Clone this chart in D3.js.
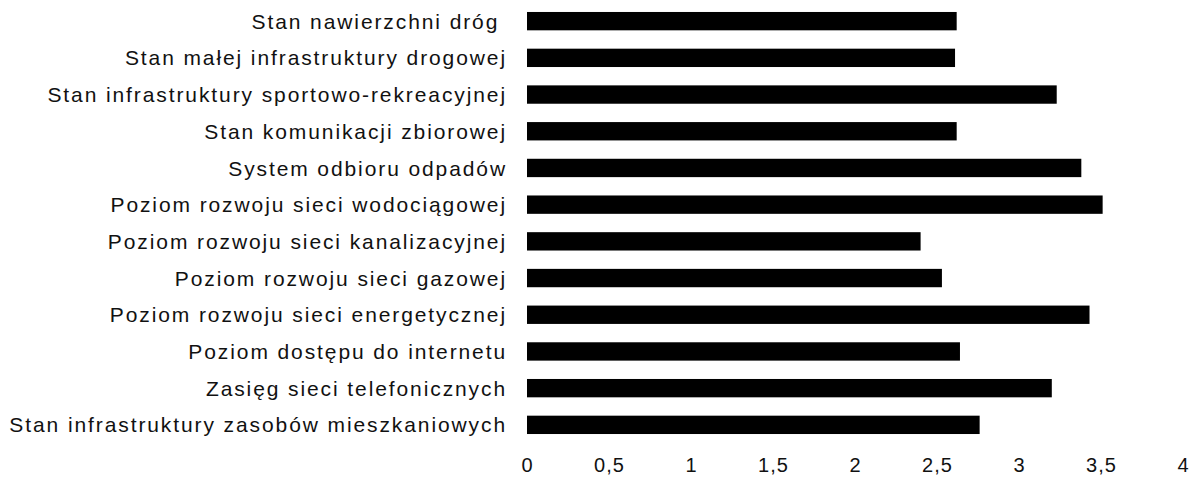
<!DOCTYPE html>
<html>
<head>
<meta charset="utf-8">
<script src="https://cdn.jsdelivr.net/npm/d3@7"></script>
<style>
  html, body { margin: 0; padding: 0; background: #fff; }
  svg { display: block; }
  text { font-family: "Liberation Sans", Arial, sans-serif; fill: #111; }
</style>
</head>
<body>
<svg id="chart" width="1197" height="485"></svg>
<script>
const categories = [
  "Stan nawierzchni dróg ",
  "Stan małej infrastruktury drogowej",
  "Stan infrastruktury sportowo-rekreacyjnej",
  "Stan komunikacji zbiorowej",
  "System odbioru odpadów",
  "Poziom rozwoju sieci wodociągowej",
  "Poziom rozwoju sieci kanalizacyjnej",
  "Poziom rozwoju sieci gazowej",
  "Poziom rozwoju sieci energetycznej",
  "Poziom dostępu do internetu",
  "Zasięg sieci telefonicznych",
  "Stan infrastruktury zasobów mieszkaniowych"
];
const values = [2.62, 2.61, 3.23, 2.62, 3.38, 3.51, 2.40, 2.53, 3.43, 2.64, 3.20, 2.76];
const tickValues = [0, 0.5, 1, 1.5, 2, 2.5, 3, 3.5, 4];

const svg = d3.select("#chart");
const x = d3.scaleLinear().domain([0, 4]).range([527, 1183]);
const y = d3.scaleBand().domain(categories).range([2.8, 443.2])
  .paddingInner(0.5).paddingOuter(0.25);

const plFormat = d3.formatLocale({decimal: ",", thousands: " ", grouping: [3], currency: ["", " zł"]}).format("~g");

svg.append("g").selectAll("rect")
  .data(categories.map((c, i) => ({c, v: values[i]})))
  .join("rect")
  .attr("x", x(0))
  .attr("y", d => y(d.c))
  .attr("width", d => x(d.v) - x(0))
  .attr("height", y.bandwidth())
  .attr("fill", "#000");

const yAxis = svg.append("g")
  .attr("transform", "translate(" + (x(0) - 20) + ",0)")
  .call(d3.axisLeft(y).tickSize(0).tickPadding(0));
yAxis.select(".domain").remove();
yAxis.selectAll("text")
  .attr("font-size", 21)
  .attr("dy", "0.36em")
  .style("font-family", "'Liberation Sans', Arial, sans-serif")
  .style("white-space", "pre")
  .style("letter-spacing", "1.9px")
  .attr("fill", "#111");

const xAxis = svg.append("g")
  .attr("transform", "translate(0,458)")
  .call(d3.axisBottom(x).tickValues(tickValues).tickFormat(plFormat).tickSize(0).tickPadding(0));
xAxis.select(".domain").remove();
xAxis.selectAll("text")
  .attr("font-size", 20)
  .style("font-family", "'Liberation Sans', Arial, sans-serif")
  .style("letter-spacing", "1px")
  .attr("fill", "#111");
</script>
</body>
</html>
